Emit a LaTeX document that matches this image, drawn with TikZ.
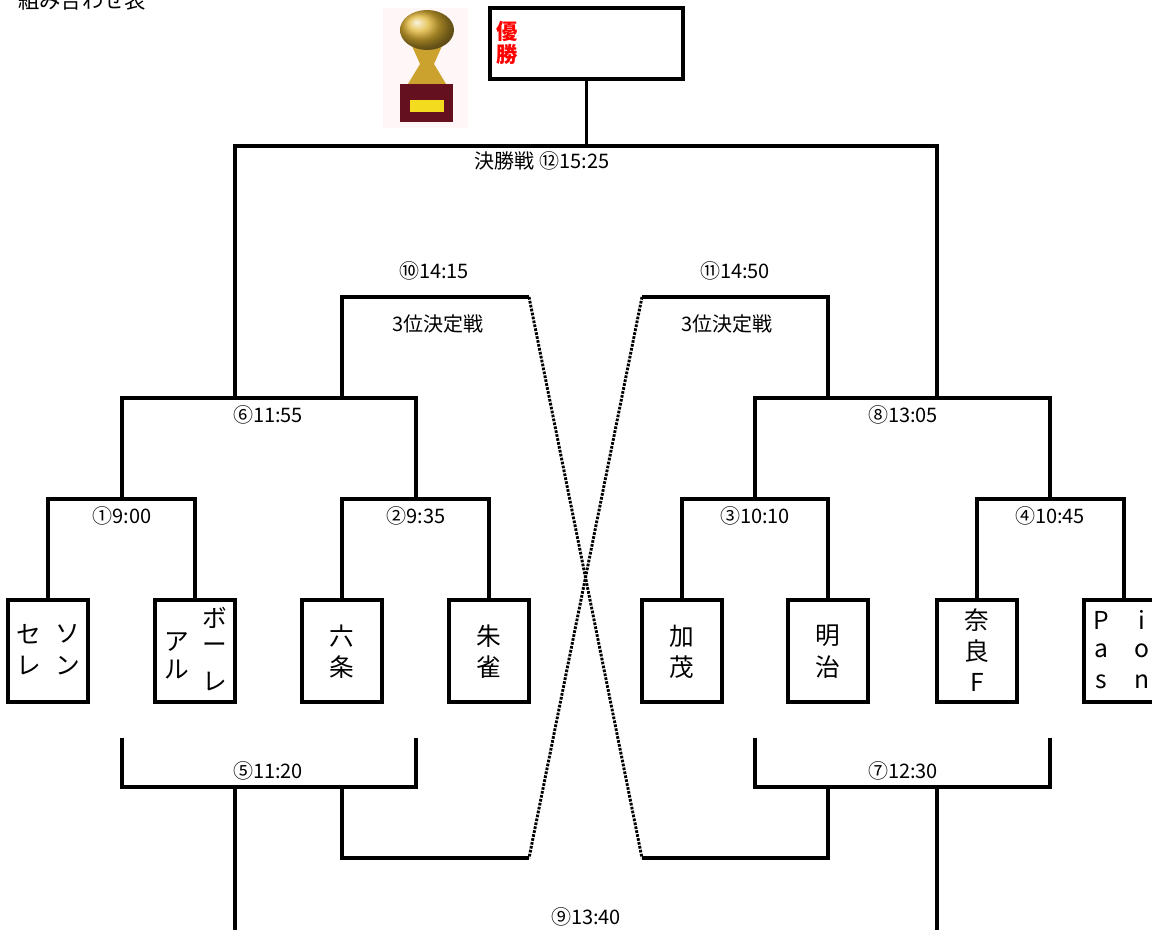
\documentclass[tikz,border=0pt]{standalone}
\usepackage{fontspec}
\setmainfont{Noto Sans CJK JP}
\definecolor{gold}{RGB}{224,180,50}
\definecolor{wine}{RGB}{100,16,30}

\tikzset{
  bline/.style={line width=2.4pt},
  dots/.style={line width=2.2pt, dash pattern=on 2pt off 1pt},
  team/.style={draw, line width=2.4pt, minimum width=60pt, minimum height=76.5pt, inner sep=0pt},
  timelabel/.style={font=\fontsize{15}{15}\selectfont, inner sep=0pt},
  teamname/.style={font=\fontsize{18.5}{18}\selectfont, inner sep=0pt},
}

\begin{document}
\begin{tikzpicture}[x=0.75pt, y=-0.75pt]
\clip (0,0) rectangle (1152,930);
\fill[white] (0,0) rectangle (1152,930);

% Title
\node[anchor=base west, font=\fontsize{16}{16}\selectfont, inner sep=0pt] (title) at (18,9) {組み合わせ表};

% Trophy
\fill[red!3] (383,8) rectangle (468,128);
\fill[gold!90!black] (412,46) -- (442,46) -- (434,64) -- (446,84) -- (408,84) -- (420,64) -- cycle;
\shade[ball color=gold] (427,30) ellipse (27 and 20);
\fill[wine] (400,84) rectangle (453,122);
\fill[yellow!60!gold] (410,100) rectangle (444,112);

% Champion
\node[draw, line width=2.4pt, minimum width=144.75pt, minimum height=53.25pt] (champ) at (586.5,43.5) {};
\node[text=red, font=\fontsize{16}{17}\bfseries\selectfont, align=center, inner sep=0pt] (win) at (507,43) {優\\勝};

% Teams
\node[team] (t1) at (48,651) {};
\node[team] (t2) at (195,651) {};
\node[team] (t3) at (342,651) {};
\node[team] (t4) at (489,651) {};
\node[team] (t5) at (682,651) {};
\node[team] (t6) at (828,651) {};
\node[team] (t7) at (977,651) {};
\node[team] (t8) at (1124,651) {};

\node[teamname] at (29,634) {セ};
\node[teamname] at (29,666) {レ};
\node[teamname] at (68,634) {ソ};
\node[teamname] at (68,666) {ン};
\node[teamname] at (177,642) {ア};
\node[teamname] at (177,670) {ル};
\node[teamname] at (215,618) {ボ};
\node[teamname] at (215,648) {ー};
\node[teamname] at (215,682) {レ};
\node[teamname] at (342,636) {六};
\node[teamname] at (342,667) {条};
\node[teamname] at (489,636) {朱};
\node[teamname] at (489,667) {雀};
\node[teamname] at (682,636) {加};
\node[teamname] at (682,667) {茂};
\node[teamname] at (828,636) {明};
\node[teamname] at (828,667) {治};
\node[teamname] at (977,620) {奈};
\node[teamname] at (977,651) {良};
\node[teamname] at (977,682) {F};
\node[teamname] at (1101,620) {P};
\node[teamname] at (1101,651) {a};
\node[teamname] at (1101,682) {s};
\node[teamname] at (1142,620) {i};
\node[teamname] at (1142,651) {o};
\node[teamname] at (1142,682) {n};

% Bracket points
\coordinate (m1) at (122,499);
\coordinate (m2) at (416,499);
\coordinate (m3) at (755,499);
\coordinate (m4) at (1050,499);
\coordinate (m6) at (235,398);
\coordinate (m8) at (937,398);
\coordinate (s6) at (342,398);
\coordinate (s8) at (828,398);
\coordinate (fin) at (586.5,146);
\coordinate (t10) at (529,297);
\coordinate (t11) at (642,297);

\coordinate (u1) at (122,738);
\coordinate (u2) at (416,738);
\coordinate (u3) at (755,738);
\coordinate (u4) at (1050,738);
\coordinate (m5) at (235,787);
\coordinate (m7) at (937,787);
\coordinate (s5) at (342,787);
\coordinate (s7) at (828,787);
\coordinate (d10) at (529,858);
\coordinate (d11) at (642,858);
\coordinate (e5) at (235,932);
\coordinate (e7) at (937,932);

% Upper rounds
\draw[bline] (t1.north) |- (m1) -| (t2.north);
\draw[bline] (t3.north) |- (m2) -| (t4.north);
\draw[bline] (t5.north) |- (m3) -| (t6.north);
\draw[bline] (t7.north) |- (m4) -| (t8.north);
\draw[bline] (m1) |- (m6) -| (m2);
\draw[bline] (m3) |- (m8) -| (m4);
\draw[bline] (m6) |- (fin) -| (m8);
\draw[bline] (fin) -- (champ.south);

% Third place
\draw[bline] (s6) |- (t10);
\draw[bline] (s8) |- (t11);
\draw[dots] (t10) -- (d11);
\draw[dots] (t11) -- (d10);

% Lower rounds
\draw[bline] (u1) |- (m5) -| (u2);
\draw[bline] (u3) |- (m7) -| (u4);
\draw[bline] (m5) -- (e5);
\draw[bline] (m7) -- (e7);
\draw[bline] (s5) |- (d10);
\draw[bline] (s7) |- (d11);

% Times
\node[timelabel] (g1) at (122,516) {①9:00};
\node[timelabel] (g2) at (416,516) {②9:35};
\node[timelabel] (g3) at (755,516) {③10:10};
\node[timelabel] (g4) at (1050,516) {④10:45};
\node[timelabel] (g6) at (268,415) {⑥11:55};
\node[timelabel] (g8) at (903,415) {⑧13:05};
\node[timelabel] (g12) at (542,161) {決勝戦\ ⑫15:25};
\node[timelabel] (g10) at (434,271) {⑩14:15};
\node[timelabel] (g11) at (735,271) {⑪14:50};
\node[timelabel] (p10) at (438,324) {3位決定戦};
\node[timelabel] (p11) at (727,324) {3位決定戦};
\node[timelabel] (g5) at (268,771) {⑤11:20};
\node[timelabel] (g7) at (903,771) {⑦12:30};
\node[timelabel] (g9) at (586,917) {⑨13:40};
\end{tikzpicture}
\end{document}
